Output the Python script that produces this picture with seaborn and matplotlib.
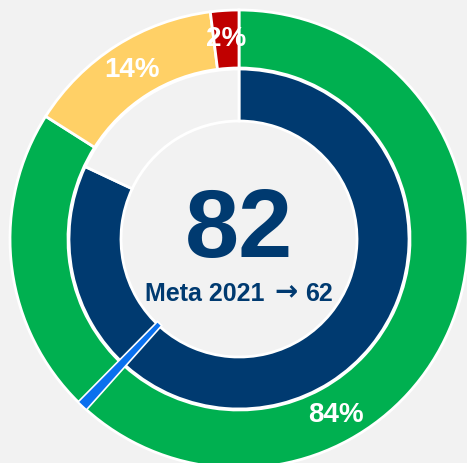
import numpy as np
import matplotlib
matplotlib.use("Agg")
import matplotlib.pyplot as plt
import seaborn as sns

# ---------------------- Data ----------------------
outer_labels = ["Cumple", "En riesgo", "No cumple"]
outer_values = [84, 14, 2]
outer_colors = ["#00B050", "#FFD066", "#C00000"]

score = 82            # inner ring value out of 100
goal_year = 2021
goal = 62             # target marker position
inner_values = [score, 100 - score]

# ---------------------- Style ----------------------
bg = "#F2F2F2"
navy = "#003A70"
marker_blue = "#0A70EE"

sns.set_theme(style="white", rc={"figure.facecolor": bg, "axes.facecolor": bg})
plt.rcParams["font.family"] = ["Liberation Sans", "DejaVu Sans"]

W, H = 467, 463
cx, cy = 239, H - 239
r_out = 229

fig = plt.figure(figsize=(W / 100, H / 100), dpi=100)
ax = fig.add_axes([0, 0, 1, 1])

# outer ring
ax.pie(outer_values, colors=outer_colors, radius=r_out, center=(cx, cy),
       startangle=90, counterclock=False,
       autopct="%.0f%%", pctdistance=0.875,
       wedgeprops=dict(width=58, edgecolor="white", linewidth=2),
       textprops=dict(color="white", fontsize=20, fontweight="bold"))

# inner ring
inner, _ = ax.pie(inner_values, colors=[navy, bg], radius=r_out - 59, center=(cx, cy),
                  startangle=90, counterclock=False,
                  wedgeprops=dict(width=52, edgecolor="white", linewidth=2))

# goal marker wedge
mw = 0.8
marker, _ = ax.pie([goal - mw / 2, mw, 100 - goal - mw / 2],
                   colors=[bg, marker_blue, bg], radius=r_out, center=(cx, cy),
                   startangle=90, counterclock=False,
                   wedgeprops=dict(width=r_out - 116, edgecolor="white", linewidth=1.2))
marker[0].set_visible(False)
marker[2].set_visible(False)

ax.set_xlim(0, W)
ax.set_ylim(0, H)
ax.set_aspect("equal", adjustable="box")
ax.axis("off")

# center text
ax.text(cx, H - 257, f"{score}", ha="center", va="baseline",
        fontsize=70, fontweight="bold", color=navy)

# "Meta 2021 -> 62" in pieces so the arrow can be the heavier DejaVu glyph
base_y = H - 301
parts = [(f"Meta {goal_year}", "Liberation Sans", 18, 0),
         ("\u2192", "DejaVu Sans", 20, 1),
         (f"{goal}", "Liberation Sans", 18, 0)]
gaps = [10, 7]
texts = [ax.text(0, base_y + dy, s, ha="left", va="baseline", fontsize=fs,
                 fontweight="bold", color=navy, family=fam)
         for s, fam, fs, dy in parts]
fig.canvas.draw()
r = fig.canvas.get_renderer()
widths = [t.get_window_extent(r).width for t in texts]
x = cx - (sum(widths) + sum(gaps)) / 2
for i, (t, w) in enumerate(zip(texts, widths)):
    t.set_x(x)
    x += w + (gaps[i] if i < len(gaps) else 0)

fig.savefig("out.png", dpi=100, facecolor=bg)
